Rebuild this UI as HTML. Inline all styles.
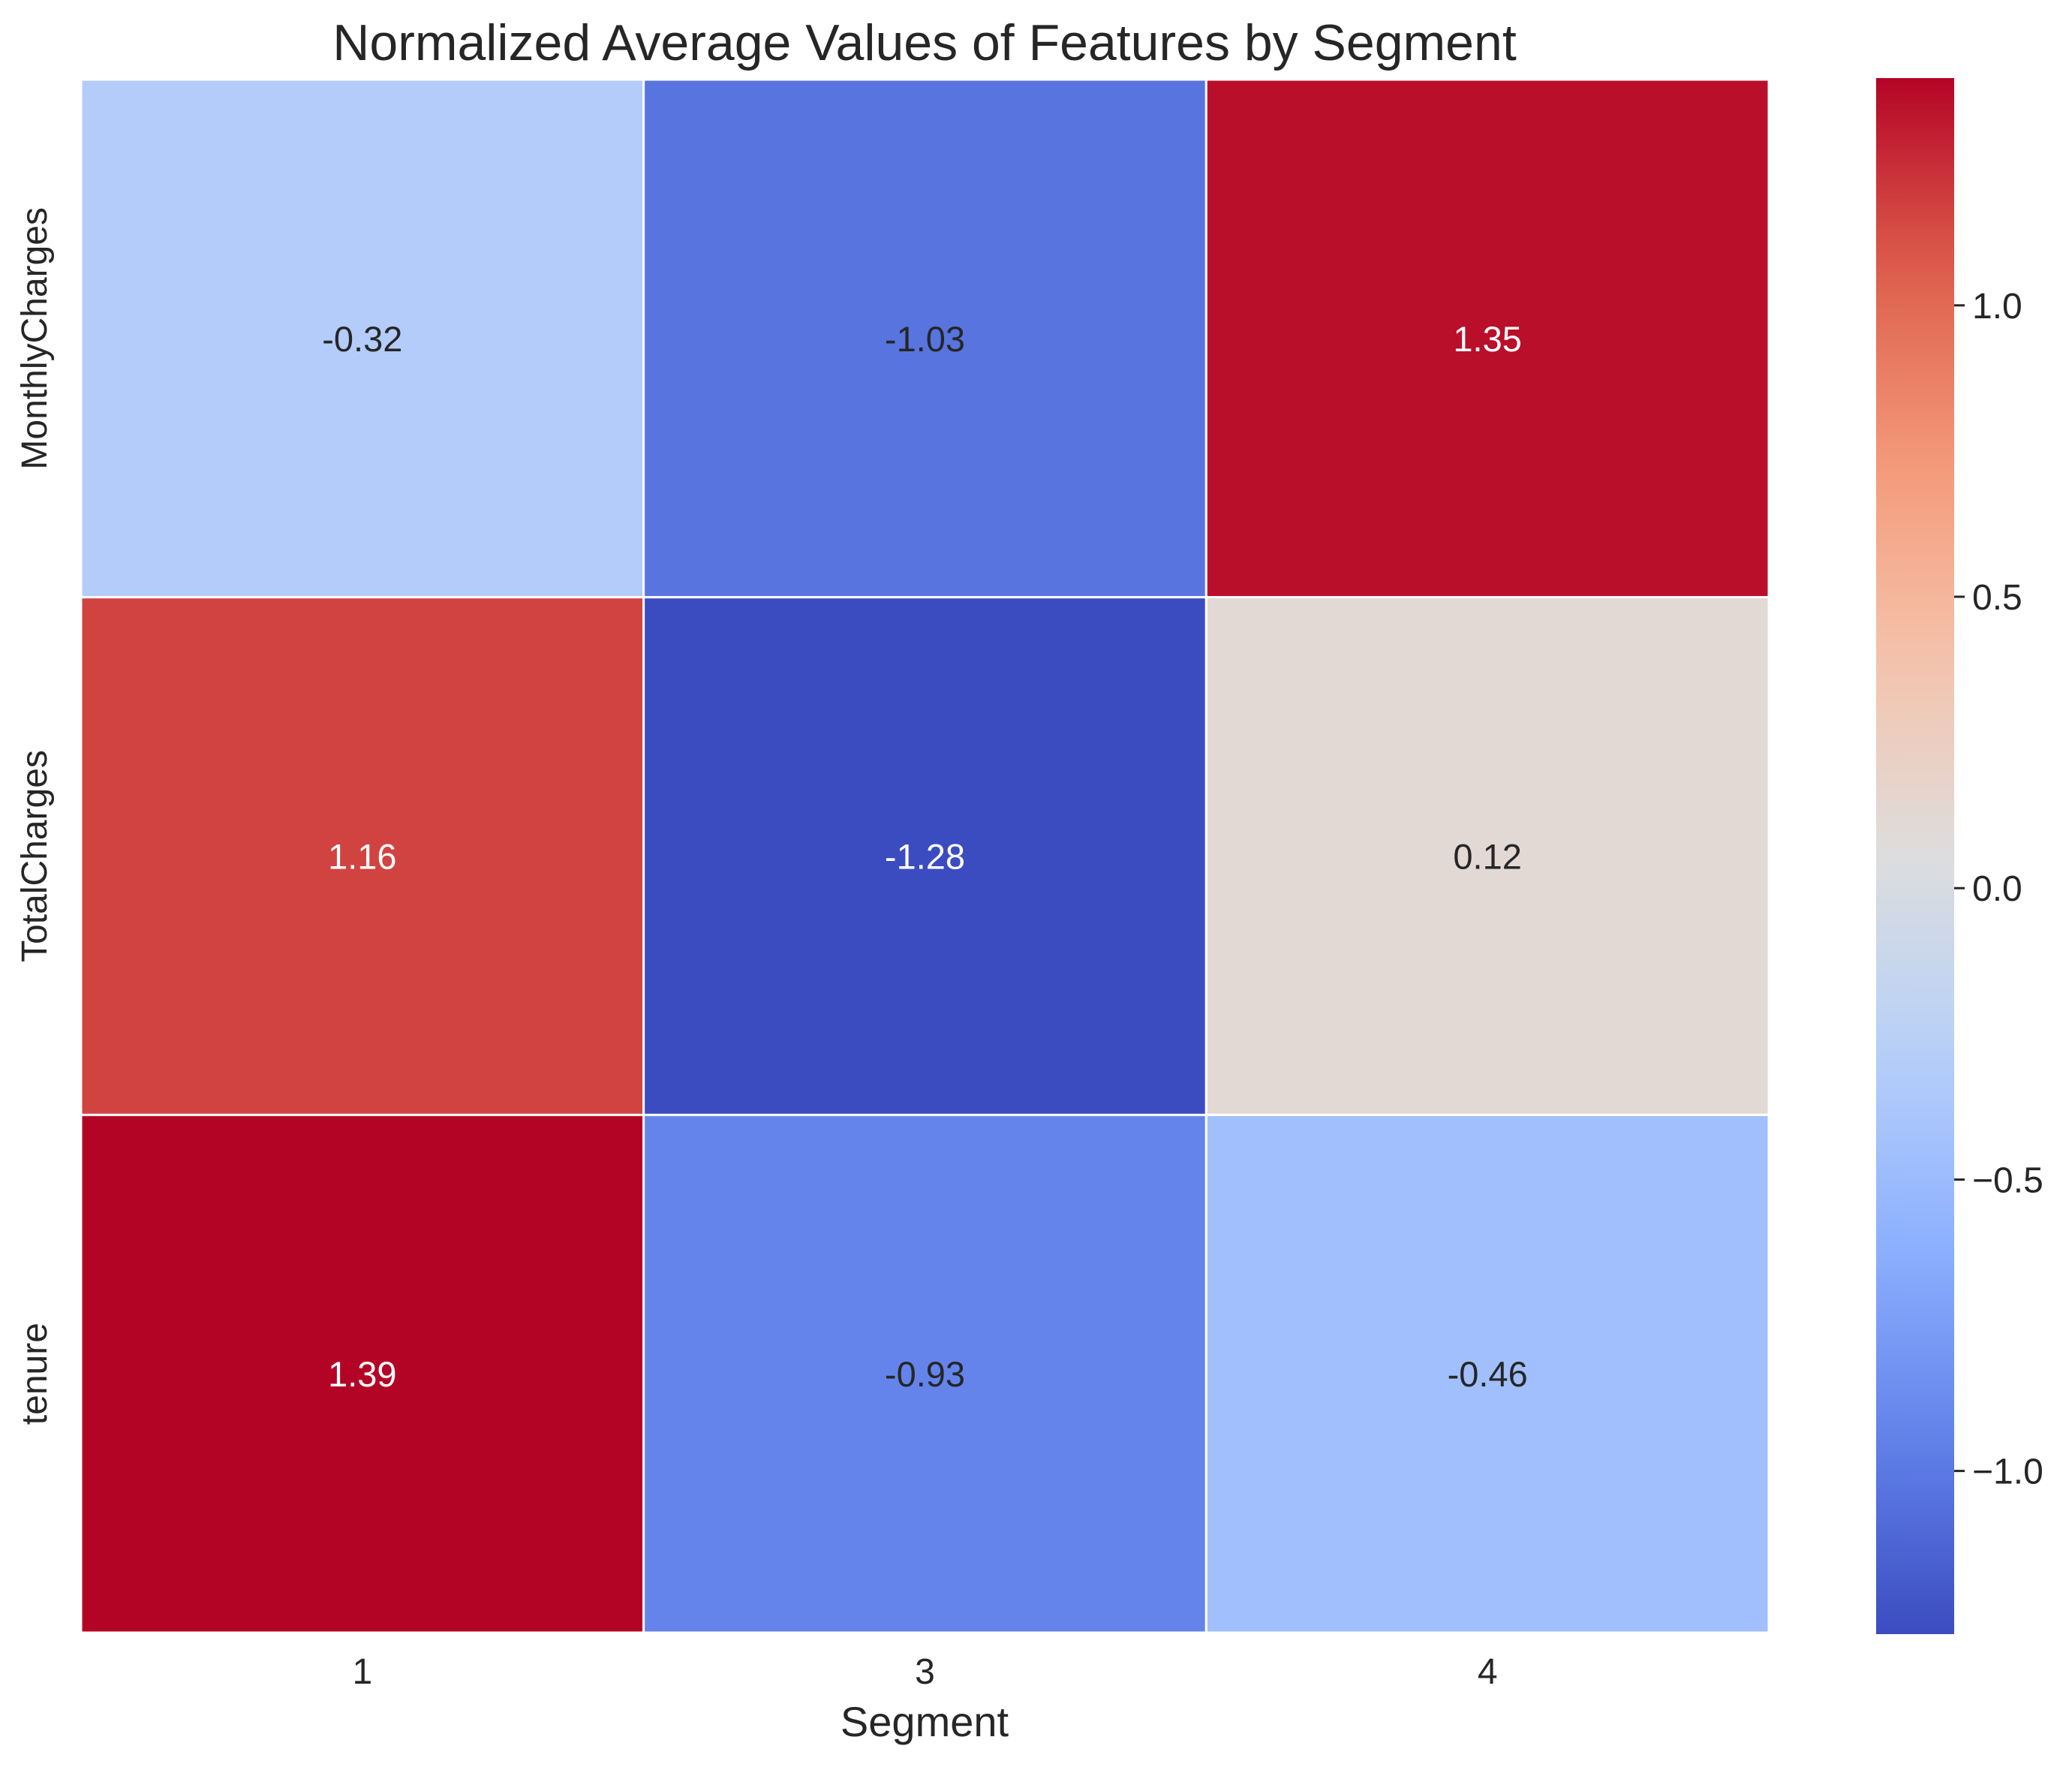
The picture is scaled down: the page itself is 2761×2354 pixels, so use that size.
<!DOCTYPE html>
<html><head><meta charset="utf-8"><style>
html,body{margin:0;padding:0;background:#fff;}
svg{display:block;font-family:"Liberation Sans",Arial,sans-serif;}
</style></head><body>
<svg id="chart" width="2761" height="2354" viewBox="0 0 2761 2354" xmlns="http://www.w3.org/2000/svg">
<defs><linearGradient id="cbgrad" x1="0" y1="1" x2="0" y2="0"></linearGradient></defs>
<text x="1232" y="80" font-size="68" text-anchor="middle" fill="#262626">Normalized Average Values of Features by Segment</text>
<g id="cells"></g>
<g id="xticks"></g>
<g id="yticks"></g>
<text x="1232" y="2313" font-size="56" text-anchor="middle" fill="#262626">Segment</text>
<rect x="2500" y="104" width="104" height="2073" fill="url(#cbgrad)"/>
<g id="cbticks"></g>
</svg>
<script>
const segments = ["1","3","4"];
const features = ["MonthlyCharges","TotalCharges","tenure"];
const valuesMonthly = [-0.32,-1.03,1.35];
const valuesTotal = [1.16,-1.28,0.12];
const valuesTenure = [1.39,-0.93,-0.46];
const colorbarTicks = [-1.0,-0.5,0.0,0.5,1.0];
const colorbarTickLabels = ["\u22121.0","\u22120.5","0.0","0.5","1.0"];

const rows = [valuesMonthly, valuesTotal, valuesTenure];
const NS = "http://www.w3.org/2000/svg";
const plotL = 108, plotR = 2357, plotT = 106, plotB = 2175;
const cbT = 104, cbB = 2177, cbX = 2604;
const all = rows.flat();
const vmin = Math.min(...all), vmax = Math.max(...all);
const cw = (plotR-plotL)/segments.length, ch = (plotB-plotT)/features.length;
function xPos(i){return plotL + i*cw;}
function yPos(j){return plotT + j*ch;}
function cbY(v){return cbB - (v - vmin)/(vmax - vmin)*(cbB-cbT);}
const cmap = [[0,59,76,192],[0.125,98,130,234],[0.25,141,176,254],[0.375,184,208,249],[0.5,221,221,221],[0.625,245,196,173],[0.75,244,154,123],[0.875,222,96,77],[1,180,4,38]];
function colorOf(t){
  t=Math.max(0,Math.min(1,t));
  for(let k=0;k<cmap.length-1;k++){
    const a=cmap[k],b=cmap[k+1];
    if(t<=b[0]){const f=(t-a[0])/(b[0]-a[0]);
      return [0,1,2].map(c=>Math.round(a[c+1]+(b[c+1]-a[c+1])*f));}
  }
  return cmap[cmap.length-1].slice(1);
}
function mk(tag, attrs, parent){const e=document.createElementNS(NS,tag);for(const k in attrs)e.setAttribute(k,attrs[k]);parent.appendChild(e);return e;}
const cells=document.getElementById('cells');
rows.forEach((row,j)=>{row.forEach((v,i)=>{
  const c=colorOf((v-vmin)/(vmax-vmin));
  const r=mk('rect',{x:xPos(i),y:yPos(j),width:cw,height:ch,fill:`rgb(${c[0]},${c[1]},${c[2]})`,stroke:'#fff','stroke-width':3},cells);
  
  
  const lum=0.2126*c[0]/255+0.7152*c[1]/255+0.0722*c[2]/255;
  const t=mk('text',{x:xPos(i)+cw/2,y:yPos(j)+ch/2+17,'font-size':47,'text-anchor':'middle',fill:lum>0.408?'#262626':'#ffffff'},cells);
  
  
  t.textContent=v.toFixed(2);
});});
const xt=document.getElementById('xticks');
segments.forEach((s,i)=>{
  const t=mk('text',{x:xPos(i)+cw/2,y:2243,'font-size':48,'text-anchor':'middle',fill:'#262626'},xt);
  
  
  t.textContent=s;
});
const yt=document.getElementById('yticks');
features.forEach((f,j)=>{
  const cy=yPos(j)+ch/2;
  const t=mk('text',{x:0,y:0,'font-size':48,'text-anchor':'middle',fill:'#262626',transform:`translate(62,${cy}) rotate(-90)`},yt);
  
  
  t.textContent=f;
});
const grad=document.getElementById('cbgrad');
for(let k=0;k<=20;k++){const c=colorOf(k/20);mk('stop',{offset:(k/20),'stop-color':`rgb(${c[0]},${c[1]},${c[2]})`},grad);}
const cbt=document.getElementById('cbticks');
colorbarTicks.forEach((v,k)=>{
  const y=cbY(v);
  const l=mk('line',{x1:cbX,x2:cbX+14,y1:y,y2:y,stroke:'#262626','stroke-width':3},cbt);
  
  
  const t=mk('text',{x:cbX+24,y:y+17,'font-size':48,fill:'#262626'},cbt);
  
  
  t.textContent=colorbarTickLabels[k];
});
</script>
</body></html>
